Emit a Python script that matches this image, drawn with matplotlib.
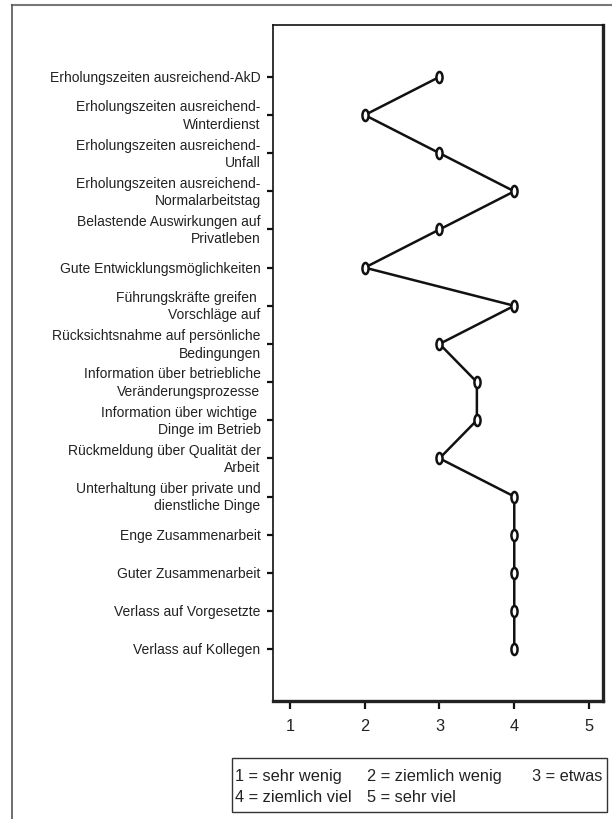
import matplotlib
matplotlib.use("Agg")
import matplotlib.pyplot as plt
from matplotlib.path import Path
from matplotlib.transforms import Affine2D
from matplotlib.lines import Line2D
from matplotlib.patches import Rectangle

plt.rcParams['font.family'] = ['Liberation Sans', 'DejaVu Sans']

# items, top to bottom
items = [
    "Erholungszeiten ausreichend-AkD",
    "Erholungszeiten ausreichend-\nWinterdienst",
    "Erholungszeiten ausreichend-\nUnfall",
    "Erholungszeiten ausreichend-\nNormalarbeitstag",
    "Belastende Auswirkungen auf\nPrivatleben",
    "Gute Entwicklungsmöglichkeiten",
    "Führungskräfte greifen \nVorschläge auf",
    "Rücksichtsnahme auf persönliche\nBedingungen",
    "Information über betriebliche\nVeränderungsprozesse",
    "Information über wichtige \nDinge im Betrieb",
    "Rückmeldung über Qualität der\nArbeit",
    "Unterhaltung über private und\ndienstliche Dinge",
    "Enge Zusammenarbeit",
    "Guter Zusammenarbeit",
    "Verlass auf Vorgesetzte",
    "Verlass auf Kollegen",
]
values = [3, 2, 3, 4, 3, 2, 4, 3, 3.5, 3.5, 3, 4, 4, 4, 4, 4]
xticks = [1, 2, 3, 4, 5]
legend_rows = [["1 = sehr wenig", "2 = ziemlich wenig", "3 = etwas"],
               ["4 = ziemlich viel", "5 = sehr viel"]]

W, H = 612, 820
fig = plt.figure(figsize=(W / 100, H / 100), dpi=100)
ax = fig.add_axes([273 / W, 1 - 702 / H, (603 - 273) / W, (702 - 26) / H])

n = len(items)
ypos = list(range(n - 1, -1, -1))

oval = Path.unit_circle().transformed(Affine2D().scale(0.55, 1.0))
ax.plot(values, ypos, color='#111111', lw=1.8, marker=oval, ms=8,
        mfc='white', mec='#111111', mew=1.8, zorder=3)

ax.set_xlim(0.773, 5.187)
ax.set_ylim(-1.36, n - 1 + 1.36)
ax.set_xticks(xticks)
ax.set_xticklabels([str(t) for t in xticks], fontsize=11.8, color='#222222')
ax.set_yticks(ypos)
ax.set_yticklabels(items, fontsize=10.0, color='#222222', linespacing=1.3,
                   ha='right', multialignment='right')
for lab in ax.get_yticklabels():
    lab.set_va('center')
ax.tick_params(axis='y', length=4, width=1.6, pad=5, color='#111111')
ax.tick_params(axis='x', length=6, width=1.6, pad=6, color='#111111')

for s in ['left', 'top']:
    ax.spines[s].set_linewidth(1.2)
    ax.spines[s].set_color('#111111')
for s in ['right', 'bottom']:
    ax.spines[s].set_linewidth(2.4)
    ax.spines[s].set_color('#222222')

# outer frame (top and left edges visible)
fig.add_artist(Line2D([12 / W, 1.0], [1 - 6 / H, 1 - 6 / H], color='#777777', lw=1.5))
fig.add_artist(Line2D([12 / W, 12 / W], [0.0, 1 - 6 / H], color='#555555', lw=1.2))

# legend box
fig.add_artist(Rectangle((232 / W, 1 - 813 / H), (607 - 232) / W, (813 - 759) / H,
                         fill=False, ec='#333333', lw=1.0))
col_x = [235, 367, 532]
row_y = [777, 798]
for r, row in enumerate(legend_rows):
    for c, txt in enumerate(row):
        fig.text(col_x[c] / W, 1 - row_y[r] / H, txt, fontsize=11.8,
                 color='#222222', ha='left', va='center')

fig.savefig("out.png", dpi=100)
